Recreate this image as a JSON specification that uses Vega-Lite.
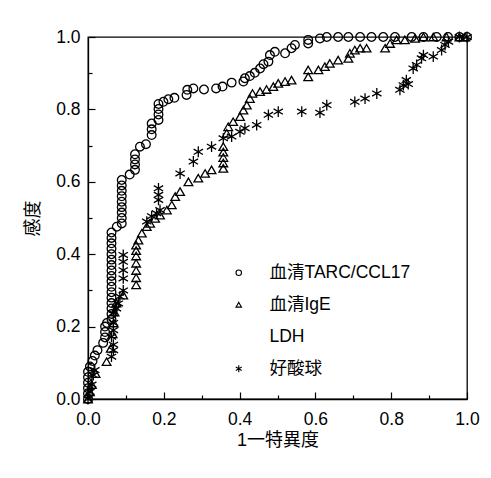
{
  "$schema": "https://vega.github.io/schema/vega-lite/v6.json",
  "width": 379,
  "height": 362,
  "autosize": {"type": "none"},
  "padding": {"left": 88, "top": 37, "right": 24, "bottom": 79},
  "background": "white",
  "config": {
    "view": {"stroke": "black", "strokeWidth": 1.3},
    "axis": {
      "domainColor": "black",
      "domainWidth": 1.3,
      "tickColor": "black",
      "tickWidth": 1.2,
      "labelColor": "black",
      "titleColor": "black",
      "labelFont": "Liberation Sans",
      "labelFontSize": 17.5,
      "titleFont": "Liberation Sans, Noto Sans CJK JP",
      "titleFontSize": 18,
      "titleFontWeight": "normal",
      "grid": false
    }
  },
  "data": {
    "values": [
      {"series": "血清TARC/CCL17", "fpr": 0, "tpr": 0},
      {"series": "血清TARC/CCL17", "fpr": 0, "tpr": 0.015},
      {"series": "血清TARC/CCL17", "fpr": 0, "tpr": 0.03},
      {"series": "血清TARC/CCL17", "fpr": 0, "tpr": 0.045},
      {"series": "血清TARC/CCL17", "fpr": 0, "tpr": 0.06},
      {"series": "血清TARC/CCL17", "fpr": 0, "tpr": 0.075},
      {"series": "血清TARC/CCL17", "fpr": 0.005, "tpr": 0.09},
      {"series": "血清TARC/CCL17", "fpr": 0.012, "tpr": 0.105},
      {"series": "血清TARC/CCL17", "fpr": 0.018, "tpr": 0.12},
      {"series": "血清TARC/CCL17", "fpr": 0.025, "tpr": 0.135},
      {"series": "血清TARC/CCL17", "fpr": 0.04, "tpr": 0.155},
      {"series": "血清TARC/CCL17", "fpr": 0.045, "tpr": 0.17},
      {"series": "血清TARC/CCL17", "fpr": 0.045, "tpr": 0.185},
      {"series": "血清TARC/CCL17", "fpr": 0.045, "tpr": 0.2},
      {"series": "血清TARC/CCL17", "fpr": 0.05, "tpr": 0.21},
      {"series": "血清TARC/CCL17", "fpr": 0.062, "tpr": 0.22},
      {"series": "血清TARC/CCL17", "fpr": 0.062, "tpr": 0.235},
      {"series": "血清TARC/CCL17", "fpr": 0.062, "tpr": 0.25},
      {"series": "血清TARC/CCL17", "fpr": 0.062, "tpr": 0.265},
      {"series": "血清TARC/CCL17", "fpr": 0.062, "tpr": 0.28},
      {"series": "血清TARC/CCL17", "fpr": 0.062, "tpr": 0.295},
      {"series": "血清TARC/CCL17", "fpr": 0.062, "tpr": 0.31},
      {"series": "血清TARC/CCL17", "fpr": 0.062, "tpr": 0.325},
      {"series": "血清TARC/CCL17", "fpr": 0.062, "tpr": 0.34},
      {"series": "血清TARC/CCL17", "fpr": 0.062, "tpr": 0.355},
      {"series": "血清TARC/CCL17", "fpr": 0.062, "tpr": 0.37},
      {"series": "血清TARC/CCL17", "fpr": 0.062, "tpr": 0.385},
      {"series": "血清TARC/CCL17", "fpr": 0.062, "tpr": 0.4},
      {"series": "血清TARC/CCL17", "fpr": 0.062, "tpr": 0.415},
      {"series": "血清TARC/CCL17", "fpr": 0.062, "tpr": 0.43},
      {"series": "血清TARC/CCL17", "fpr": 0.062, "tpr": 0.445},
      {"series": "血清TARC/CCL17", "fpr": 0.062, "tpr": 0.46},
      {"series": "血清TARC/CCL17", "fpr": 0.076, "tpr": 0.476},
      {"series": "血清TARC/CCL17", "fpr": 0.089, "tpr": 0.485},
      {"series": "血清TARC/CCL17", "fpr": 0.089, "tpr": 0.5},
      {"series": "血清TARC/CCL17", "fpr": 0.089, "tpr": 0.515},
      {"series": "血清TARC/CCL17", "fpr": 0.089, "tpr": 0.53},
      {"series": "血清TARC/CCL17", "fpr": 0.089, "tpr": 0.545},
      {"series": "血清TARC/CCL17", "fpr": 0.089, "tpr": 0.56},
      {"series": "血清TARC/CCL17", "fpr": 0.089, "tpr": 0.575},
      {"series": "血清TARC/CCL17", "fpr": 0.089, "tpr": 0.59},
      {"series": "血清TARC/CCL17", "fpr": 0.089, "tpr": 0.605},
      {"series": "血清TARC/CCL17", "fpr": 0.11, "tpr": 0.62},
      {"series": "血清TARC/CCL17", "fpr": 0.124, "tpr": 0.633},
      {"series": "血清TARC/CCL17", "fpr": 0.124, "tpr": 0.648},
      {"series": "血清TARC/CCL17", "fpr": 0.124, "tpr": 0.662},
      {"series": "血清TARC/CCL17", "fpr": 0.124, "tpr": 0.676},
      {"series": "血清TARC/CCL17", "fpr": 0.137, "tpr": 0.697},
      {"series": "血清TARC/CCL17", "fpr": 0.153, "tpr": 0.704},
      {"series": "血清TARC/CCL17", "fpr": 0.168, "tpr": 0.729},
      {"series": "血清TARC/CCL17", "fpr": 0.168, "tpr": 0.745},
      {"series": "血清TARC/CCL17", "fpr": 0.168, "tpr": 0.761},
      {"series": "血清TARC/CCL17", "fpr": 0.186, "tpr": 0.771},
      {"series": "血清TARC/CCL17", "fpr": 0.186, "tpr": 0.786},
      {"series": "血清TARC/CCL17", "fpr": 0.186, "tpr": 0.801},
      {"series": "血清TARC/CCL17", "fpr": 0.186, "tpr": 0.815},
      {"series": "血清TARC/CCL17", "fpr": 0.199, "tpr": 0.821},
      {"series": "血清TARC/CCL17", "fpr": 0.212, "tpr": 0.828},
      {"series": "血清TARC/CCL17", "fpr": 0.228, "tpr": 0.832},
      {"series": "血清TARC/CCL17", "fpr": 0.26, "tpr": 0.84},
      {"series": "血清TARC/CCL17", "fpr": 0.262, "tpr": 0.854},
      {"series": "血清TARC/CCL17", "fpr": 0.278, "tpr": 0.858},
      {"series": "血清TARC/CCL17", "fpr": 0.306, "tpr": 0.855},
      {"series": "血清TARC/CCL17", "fpr": 0.338, "tpr": 0.858},
      {"series": "血清TARC/CCL17", "fpr": 0.355, "tpr": 0.863},
      {"series": "血清TARC/CCL17", "fpr": 0.379, "tpr": 0.874},
      {"series": "血清TARC/CCL17", "fpr": 0.41, "tpr": 0.877},
      {"series": "血清TARC/CCL17", "fpr": 0.414, "tpr": 0.886},
      {"series": "血清TARC/CCL17", "fpr": 0.427, "tpr": 0.892},
      {"series": "血清TARC/CCL17", "fpr": 0.44, "tpr": 0.901},
      {"series": "血清TARC/CCL17", "fpr": 0.454, "tpr": 0.913},
      {"series": "血清TARC/CCL17", "fpr": 0.463, "tpr": 0.925},
      {"series": "血清TARC/CCL17", "fpr": 0.476, "tpr": 0.932},
      {"series": "血清TARC/CCL17", "fpr": 0.48, "tpr": 0.95},
      {"series": "血清TARC/CCL17", "fpr": 0.493, "tpr": 0.959},
      {"series": "血清TARC/CCL17", "fpr": 0.52, "tpr": 0.955},
      {"series": "血清TARC/CCL17", "fpr": 0.537, "tpr": 0.969},
      {"series": "血清TARC/CCL17", "fpr": 0.546, "tpr": 0.978},
      {"series": "血清TARC/CCL17", "fpr": 0.581, "tpr": 0.982},
      {"series": "血清TARC/CCL17", "fpr": 0.581, "tpr": 0.992},
      {"series": "血清TARC/CCL17", "fpr": 0.612, "tpr": 0.996},
      {"series": "血清TARC/CCL17", "fpr": 0.63, "tpr": 1},
      {"series": "血清TARC/CCL17", "fpr": 0.66, "tpr": 1},
      {"series": "血清TARC/CCL17", "fpr": 0.687, "tpr": 1},
      {"series": "血清TARC/CCL17", "fpr": 0.718, "tpr": 1},
      {"series": "血清TARC/CCL17", "fpr": 0.748, "tpr": 1},
      {"series": "血清TARC/CCL17", "fpr": 0.779, "tpr": 1},
      {"series": "血清TARC/CCL17", "fpr": 0.81, "tpr": 1},
      {"series": "血清TARC/CCL17", "fpr": 0.854, "tpr": 1},
      {"series": "血清TARC/CCL17", "fpr": 0.885, "tpr": 1},
      {"series": "血清TARC/CCL17", "fpr": 0.92, "tpr": 1},
      {"series": "血清TARC/CCL17", "fpr": 0.95, "tpr": 1},
      {"series": "血清TARC/CCL17", "fpr": 0.98, "tpr": 1},
      {"series": "血清TARC/CCL17", "fpr": 1, "tpr": 1},
      {"series": "血清IgE", "fpr": 0, "tpr": 0},
      {"series": "血清IgE", "fpr": 0.005, "tpr": 0.02},
      {"series": "血清IgE", "fpr": 0.01, "tpr": 0.04},
      {"series": "血清IgE", "fpr": 0.02, "tpr": 0.07},
      {"series": "血清IgE", "fpr": 0.049, "tpr": 0.103},
      {"series": "血清IgE", "fpr": 0.06, "tpr": 0.14},
      {"series": "血清IgE", "fpr": 0.065, "tpr": 0.18},
      {"series": "血清IgE", "fpr": 0.068, "tpr": 0.21},
      {"series": "血清IgE", "fpr": 0.07, "tpr": 0.24},
      {"series": "血清IgE", "fpr": 0.075, "tpr": 0.265},
      {"series": "血清IgE", "fpr": 0.093, "tpr": 0.287},
      {"series": "血清IgE", "fpr": 0.127, "tpr": 0.315},
      {"series": "血清IgE", "fpr": 0.127, "tpr": 0.335},
      {"series": "血清IgE", "fpr": 0.127, "tpr": 0.355},
      {"series": "血清IgE", "fpr": 0.127, "tpr": 0.375},
      {"series": "血清IgE", "fpr": 0.127, "tpr": 0.395},
      {"series": "血清IgE", "fpr": 0.127, "tpr": 0.41},
      {"series": "血清IgE", "fpr": 0.127, "tpr": 0.425},
      {"series": "血清IgE", "fpr": 0.133, "tpr": 0.439},
      {"series": "血清IgE", "fpr": 0.142, "tpr": 0.458},
      {"series": "血清IgE", "fpr": 0.155, "tpr": 0.476},
      {"series": "血清IgE", "fpr": 0.164, "tpr": 0.485},
      {"series": "血清IgE", "fpr": 0.177, "tpr": 0.499},
      {"series": "血清IgE", "fpr": 0.19, "tpr": 0.508},
      {"series": "血清IgE", "fpr": 0.208, "tpr": 0.522},
      {"series": "血清IgE", "fpr": 0.221, "tpr": 0.536},
      {"series": "血清IgE", "fpr": 0.23, "tpr": 0.559},
      {"series": "血清IgE", "fpr": 0.243, "tpr": 0.573},
      {"series": "血清IgE", "fpr": 0.265, "tpr": 0.6},
      {"series": "血清IgE", "fpr": 0.291, "tpr": 0.61},
      {"series": "血清IgE", "fpr": 0.309, "tpr": 0.623},
      {"series": "血清IgE", "fpr": 0.326, "tpr": 0.633},
      {"series": "血清IgE", "fpr": 0.357, "tpr": 0.637},
      {"series": "血清IgE", "fpr": 0.357, "tpr": 0.652},
      {"series": "血清IgE", "fpr": 0.357, "tpr": 0.667},
      {"series": "血清IgE", "fpr": 0.357, "tpr": 0.682},
      {"series": "血清IgE", "fpr": 0.357, "tpr": 0.697},
      {"series": "血清IgE", "fpr": 0.366, "tpr": 0.734},
      {"series": "血清IgE", "fpr": 0.37, "tpr": 0.752},
      {"series": "血清IgE", "fpr": 0.383, "tpr": 0.766},
      {"series": "血清IgE", "fpr": 0.401, "tpr": 0.78},
      {"series": "血清IgE", "fpr": 0.41, "tpr": 0.798},
      {"series": "血清IgE", "fpr": 0.419, "tpr": 0.812},
      {"series": "血清IgE", "fpr": 0.427, "tpr": 0.83},
      {"series": "血清IgE", "fpr": 0.434, "tpr": 0.844},
      {"series": "血清IgE", "fpr": 0.454, "tpr": 0.849},
      {"series": "血清IgE", "fpr": 0.471, "tpr": 0.855},
      {"series": "血清IgE", "fpr": 0.489, "tpr": 0.863},
      {"series": "血清IgE", "fpr": 0.502, "tpr": 0.872},
      {"series": "血清IgE", "fpr": 0.52, "tpr": 0.877},
      {"series": "血清IgE", "fpr": 0.537, "tpr": 0.881},
      {"series": "血清IgE", "fpr": 0.581, "tpr": 0.89},
      {"series": "血清IgE", "fpr": 0.581, "tpr": 0.909},
      {"series": "血清IgE", "fpr": 0.608, "tpr": 0.909},
      {"series": "血清IgE", "fpr": 0.625, "tpr": 0.918},
      {"series": "血清IgE", "fpr": 0.638, "tpr": 0.927},
      {"series": "血清IgE", "fpr": 0.66, "tpr": 0.936},
      {"series": "血清IgE", "fpr": 0.687, "tpr": 0.941},
      {"series": "血清IgE", "fpr": 0.691, "tpr": 0.955},
      {"series": "血清IgE", "fpr": 0.704, "tpr": 0.964},
      {"series": "血清IgE", "fpr": 0.718, "tpr": 0.969},
      {"series": "血清IgE", "fpr": 0.735, "tpr": 0.969},
      {"series": "血清IgE", "fpr": 0.784, "tpr": 0.969},
      {"series": "血清IgE", "fpr": 0.797, "tpr": 0.982},
      {"series": "血清IgE", "fpr": 0.814, "tpr": 0.992},
      {"series": "血清IgE", "fpr": 0.836, "tpr": 0.992},
      {"series": "血清IgE", "fpr": 0.863, "tpr": 0.996},
      {"series": "血清IgE", "fpr": 0.885, "tpr": 1},
      {"series": "血清IgE", "fpr": 0.911, "tpr": 1},
      {"series": "血清IgE", "fpr": 0.946, "tpr": 1},
      {"series": "血清IgE", "fpr": 0.98, "tpr": 1},
      {"series": "血清IgE", "fpr": 0.995, "tpr": 1},
      {"series": "好酸球", "fpr": 0, "tpr": 0},
      {"series": "好酸球", "fpr": 0.005, "tpr": 0.02},
      {"series": "好酸球", "fpr": 0.01, "tpr": 0.04},
      {"series": "好酸球", "fpr": 0.014, "tpr": 0.066},
      {"series": "好酸球", "fpr": 0.018, "tpr": 0.08},
      {"series": "好酸球", "fpr": 0.062, "tpr": 0.117},
      {"series": "好酸球", "fpr": 0.067, "tpr": 0.135},
      {"series": "好酸球", "fpr": 0.067, "tpr": 0.15},
      {"series": "好酸球", "fpr": 0.062, "tpr": 0.172},
      {"series": "好酸球", "fpr": 0.067, "tpr": 0.19},
      {"series": "好酸球", "fpr": 0.067, "tpr": 0.21},
      {"series": "好酸球", "fpr": 0.067, "tpr": 0.237},
      {"series": "好酸球", "fpr": 0.075, "tpr": 0.25},
      {"series": "好酸球", "fpr": 0.08, "tpr": 0.264},
      {"series": "好酸球", "fpr": 0.084, "tpr": 0.283},
      {"series": "好酸球", "fpr": 0.093, "tpr": 0.3},
      {"series": "好酸球", "fpr": 0.093, "tpr": 0.333},
      {"series": "好酸球", "fpr": 0.093, "tpr": 0.356},
      {"series": "好酸球", "fpr": 0.093, "tpr": 0.379},
      {"series": "好酸球", "fpr": 0.093, "tpr": 0.398},
      {"series": "好酸球", "fpr": 0.155, "tpr": 0.49},
      {"series": "好酸球", "fpr": 0.168, "tpr": 0.505},
      {"series": "好酸球", "fpr": 0.181, "tpr": 0.513},
      {"series": "好酸球", "fpr": 0.19, "tpr": 0.522},
      {"series": "好酸球", "fpr": 0.186, "tpr": 0.55},
      {"series": "好酸球", "fpr": 0.186, "tpr": 0.564},
      {"series": "好酸球", "fpr": 0.186, "tpr": 0.582},
      {"series": "好酸球", "fpr": 0.243, "tpr": 0.623},
      {"series": "好酸球", "fpr": 0.278, "tpr": 0.656},
      {"series": "好酸球", "fpr": 0.291, "tpr": 0.683},
      {"series": "好酸球", "fpr": 0.326, "tpr": 0.697},
      {"series": "好酸球", "fpr": 0.357, "tpr": 0.72},
      {"series": "好酸球", "fpr": 0.379, "tpr": 0.725},
      {"series": "好酸球", "fpr": 0.401, "tpr": 0.738},
      {"series": "好酸球", "fpr": 0.414, "tpr": 0.748},
      {"series": "好酸球", "fpr": 0.445, "tpr": 0.757},
      {"series": "好酸球", "fpr": 0.476, "tpr": 0.785},
      {"series": "好酸球", "fpr": 0.502, "tpr": 0.794},
      {"series": "好酸球", "fpr": 0.564, "tpr": 0.794},
      {"series": "好酸球", "fpr": 0.612, "tpr": 0.791},
      {"series": "好酸球", "fpr": 0.63, "tpr": 0.812},
      {"series": "好酸球", "fpr": 0.704, "tpr": 0.821},
      {"series": "好酸球", "fpr": 0.731, "tpr": 0.83},
      {"series": "好酸球", "fpr": 0.762, "tpr": 0.844},
      {"series": "好酸球", "fpr": 0.823, "tpr": 0.854},
      {"series": "好酸球", "fpr": 0.832, "tpr": 0.867},
      {"series": "好酸球", "fpr": 0.84, "tpr": 0.881},
      {"series": "好酸球", "fpr": 0.845, "tpr": 0.87},
      {"series": "好酸球", "fpr": 0.858, "tpr": 0.913},
      {"series": "好酸球", "fpr": 0.867, "tpr": 0.923},
      {"series": "好酸球", "fpr": 0.88, "tpr": 0.941},
      {"series": "好酸球", "fpr": 0.885, "tpr": 0.95},
      {"series": "好酸球", "fpr": 0.911, "tpr": 0.946},
      {"series": "好酸球", "fpr": 0.933, "tpr": 0.964},
      {"series": "好酸球", "fpr": 0.942, "tpr": 0.978},
      {"series": "好酸球", "fpr": 0.951, "tpr": 0.987},
      {"series": "好酸球", "fpr": 0.98, "tpr": 1},
      {"series": "好酸球", "fpr": 1, "tpr": 1}
    ]
  },
  "mark": {"type": "point", "filled": false, "color": "black", "strokeWidth": 1.3, "size": 75, "opacity": 1},
  "encoding": {
    "x": {
      "field": "fpr",
      "type": "quantitative",
      "scale": {"domain": [0, 1], "nice": false, "zero": false},
      "axis": {
        "title": "1一特異度",
        "values": [0, 0.1, 0.2, 0.3, 0.4, 0.5, 0.6, 0.7, 0.8, 0.9, 1],
        "labelExpr": "round(datum.value*10) % 2 === 0 ? format(datum.value, '.1f') : ''",
        "tickSize": {"condition": {"test": "round(datum.value*10) % 2 === 0", "value": -7}, "value": -4},
        "labelPadding": 18,
        "labelFlush": false,
        "labelOverlap": false,
        "titleX": 189.5,
        "titleY": 41,
        "titleAlign": "center",
        "titleBaseline": "middle"
      }
    },
    "y": {
      "field": "tpr",
      "type": "quantitative",
      "scale": {"domain": [0, 1], "nice": false, "zero": false},
      "axis": {
        "title": "感度",
        "values": [0, 0.1, 0.2, 0.3, 0.4, 0.5, 0.6, 0.7, 0.8, 0.9, 1],
        "labelExpr": "round(datum.value*10) % 2 === 0 ? format(datum.value, '.1f') : ''",
        "tickSize": {"condition": {"test": "round(datum.value*10) % 2 === 0", "value": -7}, "value": -4},
        "labelPadding": 15,
        "labelFlush": false,
        "labelOverlap": false,
        "titleX": -55,
        "titleY": 181,
        "titleAlign": "center",
        "titleBaseline": "middle",
        "titleAngle": -90
      }
    },
    "shape": {
      "field": "series",
      "type": "nominal",
      "scale": {
        "domain": ["血清TARC/CCL17", "血清IgE", "LDH", "好酸球"],
        "range": ["circle", "triangle-up", "M0,0", "M0,-1.25L0,1.25M-1.08,-0.62L1.08,0.62M-1.08,0.62L1.08,-0.62"]
      },
      "legend": {
        "title": null,
        "orient": "none",
        "legendX": 142,
        "legendY": 227,
        "padding": 0,
        "symbolSize": 30,
        "symbolStrokeColor": "black",
        "symbolFillColor": "transparent",
        "symbolStrokeWidth": 1.1,
        "labelFont": "Liberation Sans, Noto Sans CJK JP",
        "labelFontSize": 17.5,
        "labelColor": "black",
        "labelOffset": 22,
        "rowPadding": 13,
        "labelLimit": 300
      }
    }
  }
}
